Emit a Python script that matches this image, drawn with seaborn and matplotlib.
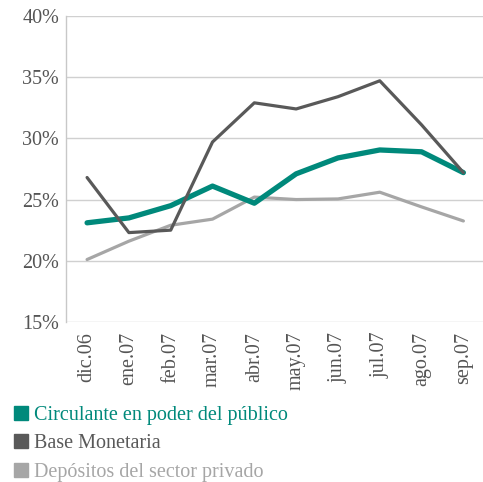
import pandas as pd
import seaborn as sns
import matplotlib.pyplot as plt
from matplotlib.patches import Patch

meses = ["dic.06", "ene.07", "feb.07", "mar.07", "abr.07", "may.07",
         "jun.07", "jul.07", "ago.07", "sep.07"]
circulante = [23.1, 23.5, 24.5, 26.1, 24.7, 27.1, 28.4, 29.05, 28.9, 27.2]
base_monetaria = [26.8, 22.3, 22.5, 29.7, 32.9, 32.4, 33.4, 34.7, 31.1, 27.2]
depositos = [20.1, 21.6, 22.9, 23.4, 25.2, 25.0, 25.05, 25.6, 24.4, 23.25]

series = ["Circulante en poder del público", "Base Monetaria",
          "Depósitos del sector privado"]
colores = ["#00897B", "#595959", "#A6A6A6"]
grosores = [3.8, 2.3, 2.3]

df = pd.DataFrame({
    "mes": meses * 3,
    "valor": circulante + base_monetaria + depositos,
    "serie": [series[0]] * 10 + [series[1]] * 10 + [series[2]] * 10,
})
df["x"] = list(range(10)) * 3

sns.set_style("white")
plt.rcParams["font.family"] = ["Liberation Serif", "DejaVu Serif"]

fig = plt.figure(figsize=(4.83, 4.82), dpi=100)
ax = fig.add_axes([0.137, 0.332, 0.87, 0.635])

# draw order: light gray, teal, dark gray on top
for nombre, col, lw in [(series[2], colores[2], grosores[2]),
                        (series[0], colores[0], grosores[0]),
                        (series[1], colores[1], grosores[1])]:
    sub = df[df["serie"] == nombre]
    sns.lineplot(data=sub, x="x", y="valor", color=col, linewidth=lw, ax=ax)

ax.set_xlim(-0.5, 9.55)
ax.set_ylim(15, 40)
ax.set_yticks([15, 20, 25, 30, 35, 40])
ax.set_yticklabels([f"{v}%" for v in [15, 20, 25, 30, 35, 40]])
ax.set_xticks(range(10))
ax.set_xticklabels(meses, rotation=90)
ax.tick_params(axis="both", length=0, colors="#555555", labelsize=14.5)
ax.tick_params(axis="y", pad=5)
ax.tick_params(axis="x", pad=7)
ax.set_xlabel("")
ax.set_ylabel("")
ax.grid(axis="y", color="#D0D0D0", linewidth=1)
for s in ["top", "right", "bottom"]:
    ax.spines[s].set_visible(False)
ax.spines["left"].set_color("#C8C8C8")
ax.spines["left"].set_linewidth(1)

handles = [Patch(facecolor=c, edgecolor=c) for c in colores]
fig.legend(handles, series, loc="upper left", bbox_to_anchor=(0.012, 0.174),
           frameon=False, fontsize=14.5, labelcolor=colores,
           handlelength=0.7, handleheight=0.7, handletextpad=0.3,
           labelspacing=0.45, borderaxespad=0)

fig.savefig("out.png", dpi=100)
